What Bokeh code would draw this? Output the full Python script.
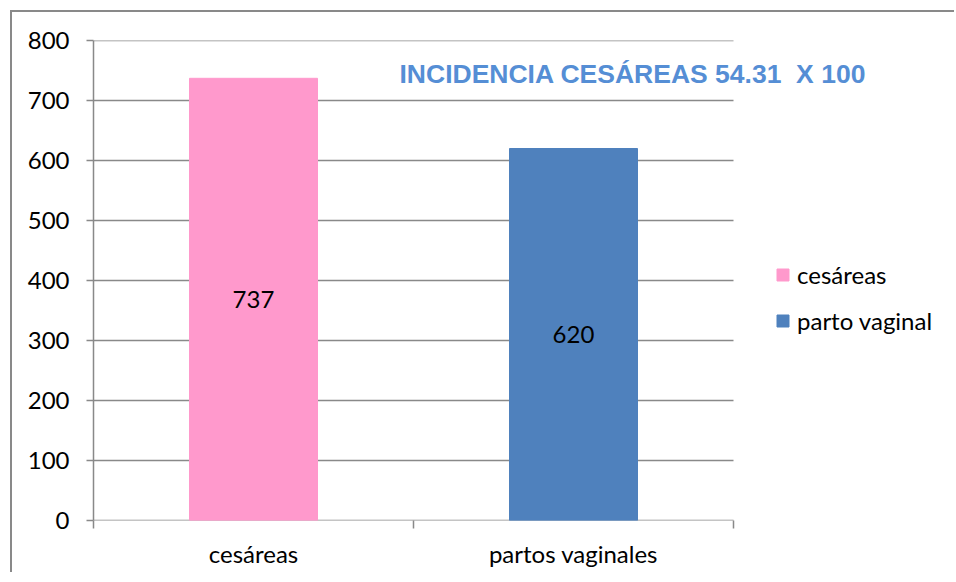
from bokeh.plotting import figure
from bokeh.models import (ColumnDataSource, FixedTicker, Legend, LegendItem, Label,
                          Range1d)
from bokeh.core.properties import value
from bokeh.embed import file_html
from bokeh.resources import INLINE

# ---- data ----
categories = ["cesáreas", "partos vaginales"]
counts = [737, 620]
legend_labels = ["cesáreas", "parto vaginal"]
bar_colors = ["#FF99CC", "#4F81BD"]
y_ticks = [0, 100, 200, 300, 400, 500, 600, 700, 800]
title_text = "INCIDENCIA CESÁREAS 54.31\u00a0 X 100"

FONT = "Lato"
GRID = "#898989"

W, H = 944, 562
LEFT = 81
FRAME_W = 640          # width of the category area in px
EXTRA_RIGHT = W - LEFT - FRAME_W   # room for the legend to the right of the categories
n = len(categories)
x_end = n + EXTRA_RIGHT / (FRAME_W / n)

p = figure(width=W, height=H, output_backend="svg", toolbar_location=None,
           x_range=Range1d(0, x_end), y_range=Range1d(0, 800),
           min_border_left=LEFT, min_border_top=28, min_border_right=0,
           min_border_bottom=54)
p.styles = {"margin-top": "12px", "margin-left": "12px",
            "box-shadow": "-2px -2px 0px 0px #898989"}
p.outline_line_color = None
p.background_fill_color = "white"
p.border_fill_color = "white"
p.xgrid.grid_line_color = None
p.ygrid.grid_line_color = None

# gridlines limited to the category area
grid_vals = y_ticks[1:]
p.segment(x0=[0] * len(grid_vals), x1=[n] * len(grid_vals), y0=grid_vals, y1=grid_vals,
          line_color=GRID, line_width=1.5)
# x-axis baseline
p.segment(x0=[0], x1=[n], y0=[0], y1=[0], line_color=GRID, line_width=1.5)

centers = [i + 0.5 for i in range(n)]
src = ColumnDataSource(dict(x=centers, top=counts, color=bar_colors,
                            mid=[c / 2 for c in counts],
                            lab=[str(c) for c in counts]))
r = p.vbar(x="x", top="top", width=0.4, color="color", source=src)

p.text(x="x", y="mid", text="lab", source=src, text_align="center",
       text_baseline="middle", text_font=value(FONT), text_font_size="24px",
       text_color="black")

# x axis: ticks at category boundaries, labels at centers
xa = p.xaxis[0]
xa.ticker = FixedTicker(ticks=centers, minor_ticks=list(range(n + 1)))
xa.major_label_overrides = {c: lab for c, lab in zip(centers, categories)}
xa.major_tick_out = 0
xa.major_tick_in = 0
xa.minor_tick_out = 8
xa.minor_tick_in = 0
xa.axis_line_color = None
xa.minor_tick_line_color = GRID
xa.minor_tick_line_width = 1.5
xa.major_label_text_font = FONT
xa.major_label_text_font_size = "24px"
xa.major_label_text_color = "black"
xa.major_label_standoff = 10

ya = p.yaxis[0]
ya.ticker = FixedTicker(ticks=y_ticks)
ya.major_tick_out = 7
ya.major_tick_in = 0
ya.minor_tick_line_color = None
ya.axis_line_color = GRID
ya.axis_line_width = 1.5
ya.major_tick_line_color = GRID
ya.major_tick_line_width = 1.5
ya.major_label_text_font = FONT
ya.major_label_text_font_size = "24px"
ya.major_label_text_color = "black"
ya.major_label_standoff = 17

title = Label(x=306, y=446.5, x_units="screen", y_units="screen", text=title_text,
              text_font="Liberation Sans", text_font_style="bold",
              text_font_size="26.5px", text_color="#558ED5",
              text_baseline="middle", text_align="left")
p.add_layout(title)

items = [LegendItem(label=lab, renderers=[r], index=i)
         for i, lab in enumerate(legend_labels)]
legend = Legend(items=items, location=(682, 185), padding=0, margin=0,
                border_line_color=None, background_fill_alpha=0,
                glyph_width=15, glyph_height=15, label_height=25,
                label_standoff=7, spacing=17,
                label_text_font=FONT, label_text_font_size="24px",
                label_text_color="black", label_text_baseline="middle")
p.add_layout(legend, "center")

open("out.html", "w").write(file_html(p, INLINE))
